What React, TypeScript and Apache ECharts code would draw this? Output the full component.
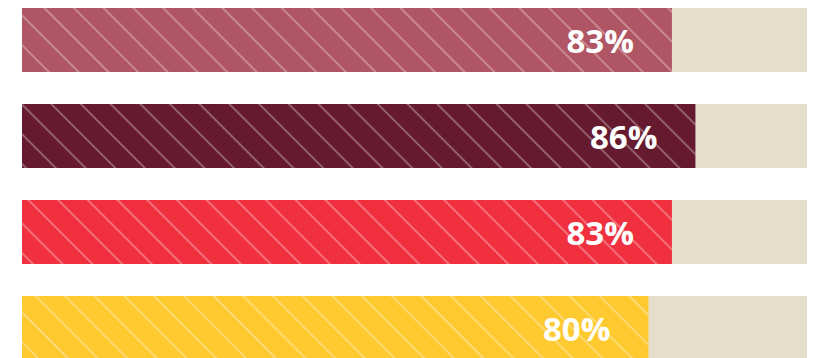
import React, { useEffect, useRef } from "react";
import * as echarts from "echarts";

const categories = ["A", "B", "C", "D"];
const values = [83, 86, 83, 80];
const barColors = ["#B05563", "#661A2F", "#F0303F", "#FFC930"];

export default function App() {
  const ref = useRef<HTMLDivElement>(null);
  useEffect(() => {
    if (!ref.current) return;
    const chart = echarts.init(ref.current, null, { renderer: "svg" });
    chart.setOption({
      animation: false,
      grid: { left: 22, right: 7, top: 0, height: 384 },
      xAxis: { type: "value", min: 0, max: 100.25, show: false },
      yAxis: {
        type: "category",
        data: categories,
        inverse: true,
        show: false,
      },
      series: [
        {
          type: "bar",
          barWidth: 64,
          showBackground: true,
          backgroundStyle: { color: "#E4DECB" },
          data: values.map((v, i) => ({
            value: v,
            itemStyle: {
              color: barColors[i],
              decal: {
                symbol: "rect",
                symbolSize: 1,
                color: "rgba(255,255,255,0.3)",
                dashArrayX: [1, 0],
                dashArrayY: [1.5, 19],
                rotation: Math.PI / 4,
              },
            },
          })),
          label: {
            show: true,
            position: "insideRight",
            distance: 38,
            formatter: "{c}%",
            color: "#ffffff",
            fontFamily: "Open Sans",
            fontWeight: "bold",
            fontSize: 33,
          },
        },
      ],
    });
    return () => chart.dispose();
  }, []);
  return (
    <div
      ref={ref}
      style={{ position: "absolute", left: 0, top: -8, width: 814, height: 392 }}
    />
  );
}
